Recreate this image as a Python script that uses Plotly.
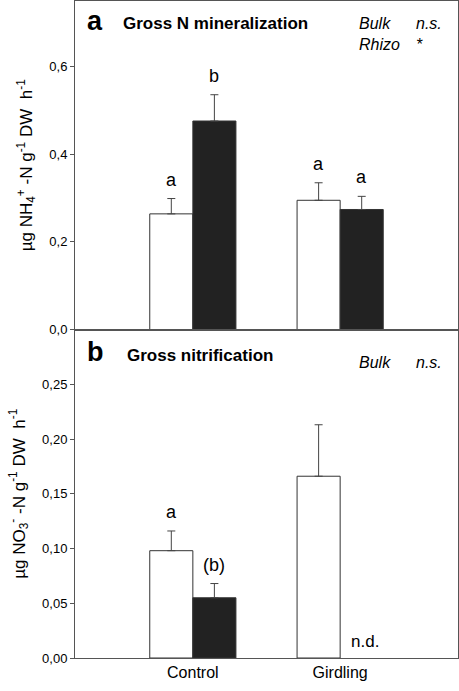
import plotly.graph_objects as go
from plotly.subplots import make_subplots

categories = ["Control", "Girdling"]

# Panel a: Gross N mineralization (µg NH4+-N g-1 DW h-1)
min_bulk = [0.264, 0.295]
min_bulk_err = [0.035, 0.040]
min_rhizo = [0.476, 0.274]
min_rhizo_err = [0.060, 0.030]
min_bulk_letters = ["a", "a"]
min_rhizo_letters = ["b", "a"]

# Panel b: Gross nitrification (µg NO3- -N g-1 DW h-1)
nit_bulk = [0.098, 0.166]
nit_bulk_err = [0.018, 0.047]
nit_rhizo = [0.055, None]
nit_rhizo_err = [0.013, None]
nit_bulk_letters = ["a", ""]
nit_rhizo_letters = ["(b)", ""]

top_ticks = [0.0, 0.2, 0.4, 0.6]
top_ticktext = ["0,0", "0,2", "0,4", "0,6"]
bot_ticks = [0.0, 0.05, 0.10, 0.15, 0.20, 0.25]
bot_ticktext = ["0,00", "0,05", "0,10", "0,15", "0,20", "0,25"]

FONT = "Liberation Sans, Arial, sans-serif"
AXIS = "#555555"
BAR_DARK = "#222222"
EDGE = "#333333"
BARGAP = 0.415

fig = make_subplots(rows=2, cols=1, shared_xaxes=False, vertical_spacing=0.0)


def add_pair(row, bulk, bulk_err, rhizo, rhizo_err):
    fig.add_trace(go.Bar(
        x=categories, y=bulk, name="Bulk",
        marker=dict(color="white", line=dict(color=EDGE, width=1)),
        error_y=dict(type="data", array=bulk_err, symmetric=False,
                     arrayminus=[0] * len(bulk), color="#444444", thickness=1, width=4),
        showlegend=False), row=row, col=1)
    fig.add_trace(go.Bar(
        x=categories, y=rhizo, name="Rhizo",
        marker=dict(color=BAR_DARK, line=dict(color=EDGE, width=1)),
        error_y=dict(type="data", array=[e if e is not None else 0 for e in rhizo_err],
                     symmetric=False, arrayminus=[0] * len(rhizo),
                     color="#444444", thickness=1, width=4),
        showlegend=False), row=row, col=1)


add_pair(1, min_bulk, min_bulk_err, min_rhizo, min_rhizo_err)
add_pair(2, nit_bulk, nit_bulk_err, nit_rhizo, nit_rhizo_err)

half = (1 - BARGAP) / 4
annotations = []


def letters(xref, yref, vals, errs, labels, offset):
    for i, (v, e, t) in enumerate(zip(vals, errs, labels)):
        if not t or v is None:
            continue
        annotations.append(dict(
            x=i + offset, y=v + e, xref=xref, yref=yref, text=t, showarrow=False,
            yanchor="bottom", yshift=7, font=dict(family=FONT, size=18, color="black")))


letters("x", "y", min_bulk, min_bulk_err, min_bulk_letters, -half)
letters("x", "y", min_rhizo, min_rhizo_err, min_rhizo_letters, half)
letters("x2", "y2", nit_bulk, nit_bulk_err, nit_bulk_letters, -half)
letters("x2", "y2", nit_rhizo, nit_rhizo_err, nit_rhizo_letters, half)

# n.d. marker
annotations.append(dict(x=1 + half, y=0, xref="x2", yref="y2", text="n.d.", showarrow=False,
                        yanchor="bottom", yshift=5, xshift=3,
                        font=dict(family=FONT, size=17, color="black")))


def txt(x, y, text, size, anchor="middle"):
    return dict(x=x, y=y, xref="paper", yref="paper", text=text, showarrow=False,
                xanchor="left", yanchor=anchor, align="left",
                font=dict(family=FONT, size=size, color="black"))


# panel labels and titles
annotations += [
    txt(0.027, 0.9954, "<b>a</b>", 27, "top"),
    txt(0.12, 0.965, "<b>Gross N mineralization</b>", 17),
    txt(0.735, 0.950, "<i>Bulk</i><br><i>Rhizo</i>", 16),
    txt(0.885, 0.950, "<i>n.s.</i><br><i>*</i>", 16),
    txt(0.027, 0.4916, "<b>b</b>", 27, "top"),
    txt(0.13, 0.461, "<b>Gross nitrification</b>", 17),
    txt(0.735, 0.4505, "<i>Bulk</i>", 16),
    txt(0.885, 0.4505, "<i>n.s.</i>", 16),
]

axis_common = dict(showline=True, linecolor=AXIS, linewidth=1, mirror=True,
                   showgrid=False, zeroline=False, automargin=False)

fig.update_layout(
    width=459, height=691,
    margin=dict(l=75, r=1, t=1, b=33, autoexpand=False),
    paper_bgcolor="white", plot_bgcolor="white",
    barmode="group", bargap=BARGAP, bargroupgap=0,
    font=dict(family=FONT, size=13, color="black"),
    annotations=annotations,
    xaxis=dict(**axis_common, range=[-0.8, 1.8], showticklabels=False, ticks=""),
    xaxis2=dict(**axis_common, range=[-0.8, 1.8], ticks="",
                tickfont=dict(family=FONT, size=16, color="black")),
    yaxis=dict(**axis_common, range=[0, 0.75], tickvals=top_ticks, ticktext=top_ticktext,
               ticks="outside", ticklen=4, tickcolor=AXIS,
               tickfont=dict(family=FONT, size=13, color="black"),
               title=dict(text="µg NH<sub>4</sub><sup>+</sup> -N g<sup>-1</sup> DW  h<sup>-1</sup>",
                          font=dict(family=FONT, size=17, color="black"), standoff=12)),
    yaxis2=dict(**axis_common, range=[0, 0.30], tickvals=bot_ticks, ticktext=bot_ticktext,
                ticks="outside", ticklen=4, tickcolor=AXIS,
                tickfont=dict(family=FONT, size=13, color="black"),
                title=dict(text="µg NO<sub>3</sub><sup>-</sup> -N g<sup>-1</sup> DW  h<sup>-1</sup>",
                           font=dict(family=FONT, size=17, color="black"), standoff=12)),
)

fig.write_html("out.html", config={"displayModeBar": False},
               post_script="document.body.style.margin='0px';")
